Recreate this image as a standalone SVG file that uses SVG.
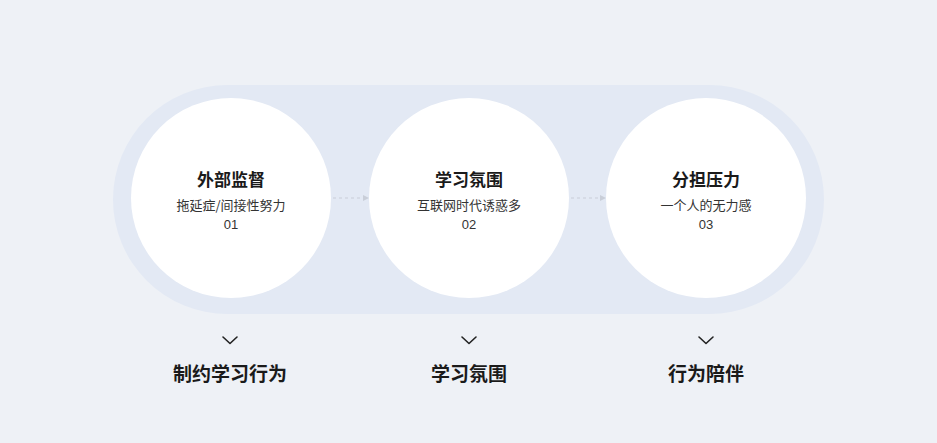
<svg xmlns="http://www.w3.org/2000/svg" width="937" height="443" viewBox="0 0 937 443">
<defs>
<style>
.bg{fill:#eef1f6}
.pill{fill:#e3e9f4}
.circ{fill:#ffffff}
.t{font-family:"Noto Sans CJK SC","Liberation Sans",sans-serif;text-anchor:middle}
.title{font-size:17px;font-weight:700;fill:#1a1a1a}
.sub{font-size:13px;fill:#333333}
.num{font-family:"Liberation Sans","Noto Sans CJK SC",sans-serif;font-size:13px;fill:#333333}
.lbl{font-size:19px;font-weight:700;fill:#1a1a1a}
.conn{stroke:#c9ced8;stroke-width:1.2;stroke-dasharray:3 3;fill:none}
.chev{stroke:#222222;stroke-width:1.6;fill:none;stroke-linecap:round;stroke-linejoin:round}
</style>
<marker id="ah" markerWidth="6" markerHeight="6" refX="5" refY="3" orient="auto" markerUnits="userSpaceOnUse">
<path d="M0,0 L6,3 L0,6 Z" fill="#c9ced8"/>
</marker>
</defs>
<rect class="bg" x="0" y="0" width="937" height="443"/>
<rect class="pill" x="113" y="85" width="711" height="229" rx="114.5" ry="114.5"/>
<g id="connectors">
<line class="conn" x1="333" y1="198" x2="368" y2="198" marker-end="url(#ah)"/>
<line class="conn" x1="571" y1="198" x2="605" y2="198" marker-end="url(#ah)"/>
</g>
<g id="node1">
<circle class="circ" cx="231" cy="198" r="100"/>
<text class="t title" x="231" y="186">外部监督</text>
<text class="t sub" x="231" y="210">拖延症/间接性努力</text>
<text class="t num" x="231" y="229">01</text>
</g>
<g id="node2">
<circle class="circ" cx="469" cy="198" r="100"/>
<text class="t title" x="469" y="186">学习氛围</text>
<text class="t sub" x="469" y="210">互联网时代诱惑多</text>
<text class="t num" x="469" y="229">02</text>
</g>
<g id="node3">
<circle class="circ" cx="706" cy="198" r="100"/>
<text class="t title" x="706" y="186">分担压力</text>
<text class="t sub" x="706" y="210">一个人的无力感</text>
<text class="t num" x="706" y="229">03</text>
</g>
<g id="label1">
<polyline class="chev" points="223,337 230,343.5 237,337"/>
<text class="t lbl" x="230" y="381">制约学习行为</text>
</g>
<g id="label2">
<polyline class="chev" points="462,337 469,343.5 476,337"/>
<text class="t lbl" x="469" y="381">学习氛围</text>
</g>
<g id="label3">
<polyline class="chev" points="699,337 706,343.5 713,337"/>
<text class="t lbl" x="706" y="381">行为陪伴</text>
</g>
</svg>
